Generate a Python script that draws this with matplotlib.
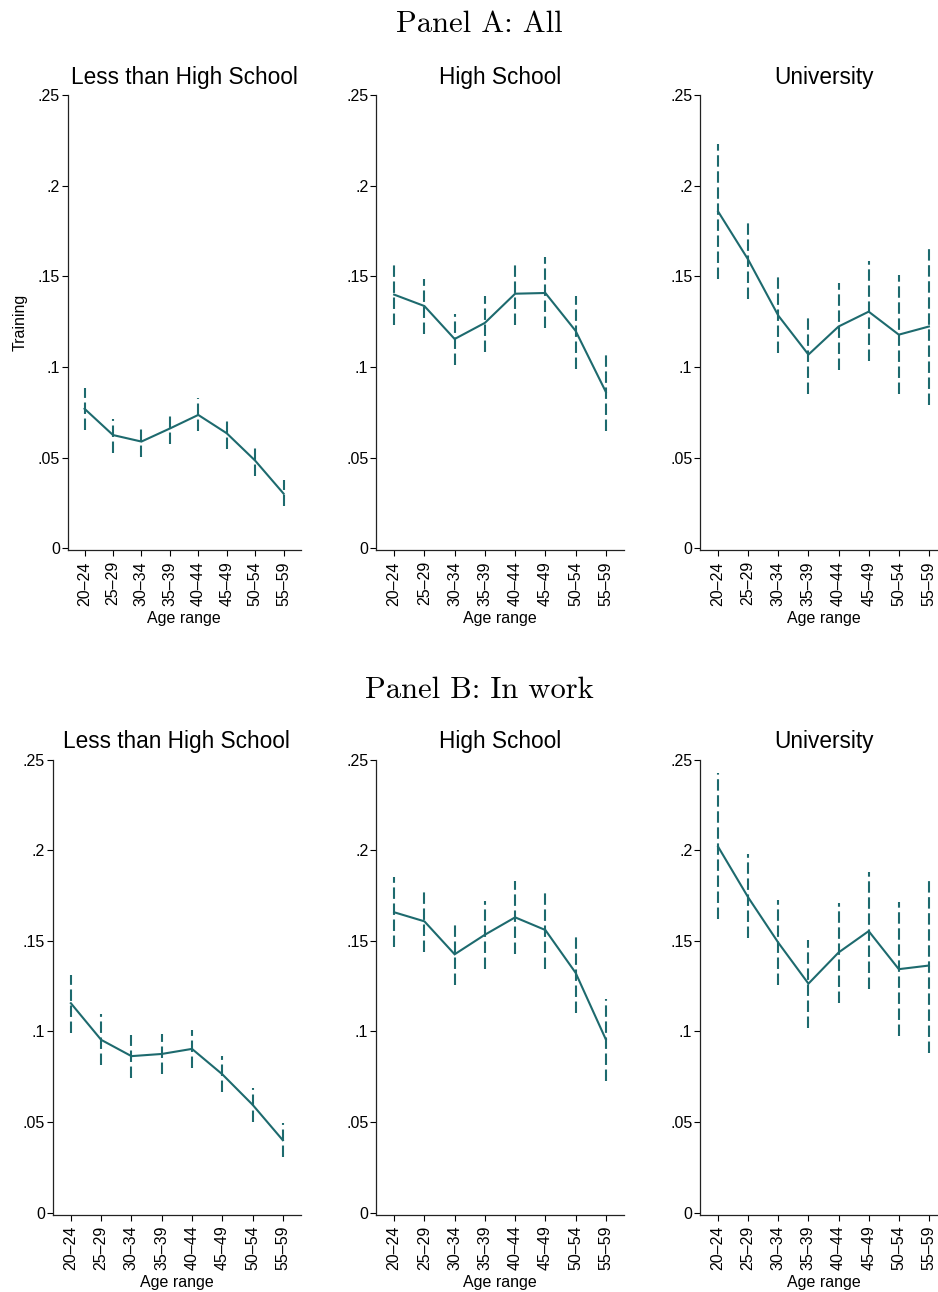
import matplotlib
matplotlib.use("Agg")
import matplotlib.pyplot as plt

plt.rcParams["font.family"] = ["Liberation Sans", "DejaVu Sans"]

# Age groups on the horizontal axis
ages = ["20–24", "25–29", "30–34", "35–39", "40–44", "45–49", "50–54", "55–59"]
edu_groups = ["Less than High School", "High School", "University"]

# Panel A: All -- point estimates and 95% CI bounds
a_lths = [0.0770, 0.0625, 0.0589, 0.0661, 0.0736, 0.0635, 0.0484, 0.0302]
a_lths_hi = [0.0887, 0.0716, 0.0670, 0.0750, 0.0827, 0.0720, 0.0560, 0.0379]
a_lths_lo = [0.0655, 0.0528, 0.0504, 0.0575, 0.0645, 0.0548, 0.0400, 0.0232]

a_hs = [0.1400, 0.1337, 0.1155, 0.1244, 0.1405, 0.1409, 0.1200, 0.0863]
a_hs_hi = [0.1567, 0.1486, 0.1294, 0.1395, 0.1583, 0.1607, 0.1395, 0.1065]
a_hs_lo = [0.1234, 0.1185, 0.1012, 0.1085, 0.1230, 0.1214, 0.0992, 0.0649]

a_uni = [0.1859, 0.1593, 0.1284, 0.1069, 0.1224, 0.1306, 0.1179, 0.1224]
a_uni_hi = [0.2232, 0.1804, 0.1496, 0.1276, 0.1466, 0.1583, 0.1506, 0.1663]
a_uni_lo = [0.1484, 0.1375, 0.1079, 0.0853, 0.0982, 0.1032, 0.0851, 0.0790]

# Panel B: In work
b_lths = [0.1156, 0.0954, 0.0864, 0.0876, 0.0904, 0.0764, 0.0596, 0.0400]
b_lths_hi = [0.1310, 0.1096, 0.0980, 0.0984, 0.1010, 0.0864, 0.0690, 0.0494]
b_lths_lo = [0.0990, 0.0814, 0.0744, 0.0764, 0.0796, 0.0664, 0.0500, 0.0306]

b_hs = [0.1658, 0.1608, 0.1426, 0.1534, 0.1630, 0.1560, 0.1324, 0.0956]
b_hs_hi = [0.1850, 0.1780, 0.1596, 0.1720, 0.1830, 0.1774, 0.1540, 0.1180]
b_hs_lo = [0.1466, 0.1436, 0.1254, 0.1346, 0.1430, 0.1346, 0.1100, 0.0726]

b_uni = [0.2020, 0.1740, 0.1490, 0.1264, 0.1436, 0.1554, 0.1344, 0.1364]
b_uni_hi = [0.2424, 0.1980, 0.1724, 0.1506, 0.1710, 0.1880, 0.1714, 0.1844]
b_uni_lo = [0.1620, 0.1514, 0.1254, 0.1020, 0.1160, 0.1234, 0.0976, 0.0884]

yticks = [0, 0.05, 0.10, 0.15, 0.20, 0.25]
ytick_labels = ["0", ".05", ".1", ".15", ".2", ".25"]

COLOR = "#1d6a6e"
W, H = 938, 1292

fig = plt.figure(figsize=(W / 100, H / 100), dpi=100)


def px_axes(left, right, top, bottom):
    return fig.add_axes([left / W, 1 - bottom / H, (right - left) / W, (bottom - top) / H])


def draw_panel(ax, est, hi, lo, title, ylabel=False):
    xs = list(range(1, len(ages) + 1))
    for x, l, h in zip(xs, lo, hi):
        ax.plot([x, x], [l, h], color=COLOR, lw=1.5, linestyle=(0, (5.5, 2.2)),
                solid_capstyle="butt", dash_capstyle="butt", zorder=2)
    ax.plot(xs, est, color=COLOR, lw=1.5, zorder=3, solid_joinstyle="miter")
    ax.set_xlim(0.4, 8.6)
    ax.set_ylim(-0.001, 0.25)
    ax.set_xticks(xs)
    ax.set_xticklabels(ages, rotation=90, fontsize=11.5)
    ax.set_yticks(yticks)
    ax.set_yticklabels(ytick_labels, fontsize=11.5)
    ax.tick_params(axis="y", length=4.5, width=0.8, pad=1)
    ax.tick_params(axis="x", length=4.5, width=0.8, pad=3.5)
    for s in ("top", "right"):
        ax.spines[s].set_visible(False)
    for s in ("left", "bottom"):
        ax.spines[s].set_linewidth(0.9)
        ax.spines[s].set_color("#222222")
    ax.set_xlabel("Age range", fontsize=11.5, labelpad=3.5)
    if ylabel:
        ax.set_ylabel("Training", fontsize=11.5)
        ax.yaxis.set_label_coords(-0.171, 0.5)
    ax.text(0.5, 1.0 + 18 / 455, title, transform=ax.transAxes, ha="center",
            va="center", fontsize=16.3)


# Row layout in pixels
rows = [(95.3, 550.1), (759.7, 1214.5)]
cols_a = [(67.5, 300.6), (376, 624), (700, 947)]
cols_b = [(52.7, 301), (376, 624), (700, 947)]

panel_a = [(a_lths, a_lths_hi, a_lths_lo), (a_hs, a_hs_hi, a_hs_lo), (a_uni, a_uni_hi, a_uni_lo)]
panel_b = [(b_lths, b_lths_hi, b_lths_lo), (b_hs, b_hs_hi, b_hs_lo), (b_uni, b_uni_hi, b_uni_lo)]

for i, ((l, r), (est, hi, lo)) in enumerate(zip(cols_a, panel_a)):
    ax = px_axes(l, r, *rows[0])
    draw_panel(ax, est, hi, lo, edu_groups[i], ylabel=(i == 0))

for i, ((l, r), (est, hi, lo)) in enumerate(zip(cols_b, panel_b)):
    ax = px_axes(l, r, *rows[1])
    draw_panel(ax, est, hi, lo, edu_groups[i])

serif = ["cmr10", "DejaVu Serif"]
fig.text(479 / W, 1 - 24 / H, "Panel A: All", ha="center", va="center",
         fontsize=22, family=serif)
fig.text(479 / W, 1 - 690 / H, "Panel B: In work", ha="center", va="center",
         fontsize=22, family=serif)

fig.savefig("out.png", dpi=100, facecolor="white")
